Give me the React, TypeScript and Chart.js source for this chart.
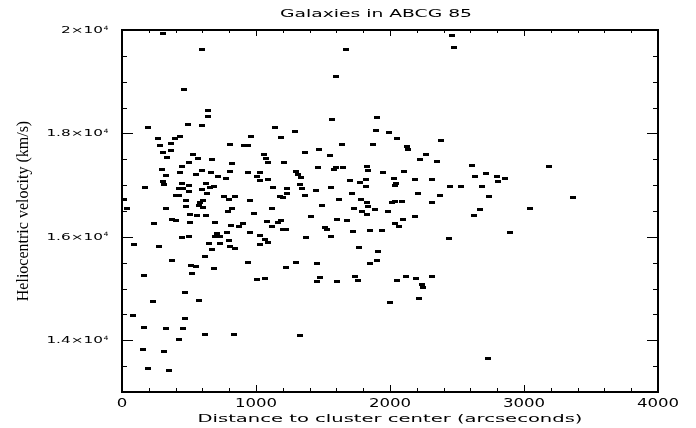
import React, { useEffect, useRef } from "react";
import { Chart, registerables } from "chart.js";

Chart.register(...registerables);

const TITLE = "Galaxies in ABCG 85";
const X_TITLE = "Distance to cluster center (arcseconds)";
const Y_TITLE = "Heliocentric velocity (km/s)";

const X_MIN = 0;
const X_MAX = 4000;
const Y_MIN = 13000;
const Y_MAX = 20000;

const xMajorTicks = [0, 1000, 2000, 3000, 4000];
const xMinorStep = 200;
const yMajorTicks = [14000, 16000, 18000, 20000];
const yMajorMantissa = ["1.4", "1.6", "1.8", "2"];
const yExponent = "4";
const yMinorStep = 500;

// projected distance from cluster centre (arcsec)
const distance = [
  308, 599, 1672, 1597, 465, 644, 644, 1569, 1903, 2465, 2478,
  196, 495, 599, 1144, 1293, 271, 396, 433, 960, 1187, 368, 286, 804, 908, 943,
  308, 368, 532, 338, 569, 674, 1060, 1077, 500, 823, 1087, 1207, 450, 301, 433,
  599, 554, 662, 326, 719, 808, 943, 1032, 1010, 778, 1030, 1092, 1301, 306, 316,
  450, 502, 629, 174, 425, 457, 595, 659, 687, 1129, 1234, 502, 637, 1234, 401,
  423, 763, 846, 1179, 1199, 17, 480, 607, 799, 957, 584, 577, 480, 607, 35, 331,
  823, 1122,
  793, 987, 510, 562, 629, 373, 405, 241, 510, 696, 816, 875, 905, 1084, 1166,
  1189, 1122, 1204, 1226, 786, 957, 711, 1032, 450, 502, 696, 734, 1065, 801,
  1092, 92, 652, 734, 1032, 278, 808, 846, 674, 622, 375, 943, 1301, 517, 554,
  689, 1226, 166, 525, 1010, 1069, 472,
  1898, 1995, 2055, 2383, 1644, 1875, 2129, 2137, 1368, 1472, 1555, 2271, 2226,
  2353, 1465, 1599, 1584, 1652, 1831, 1838, 1316, 1950, 2107, 1338, 1704, 1778,
  1823, 2032, 2189, 2316, 1331, 1346, 1562, 1823, 2047, 2040, 2450, 2532, 1450,
  1368, 1719, 2211, 2375, 1622, 1786, 1831, 2017, 2040, 2092, 2316, 1495, 1838,
  1734, 1890,
  1793, 1831, 1987, 1413, 1607, 1681, 2099, 2184, 2040, 2069, 1517, 1532, 1726,
  1853, 1943, 1375, 1562, 2443, 1771, 1913, 1905, 1853, 1457, 1480, 1457, 1607,
  1741, 1763, 2055, 2122, 2196, 2316, 2241, 2244,
  2614, 3189, 2719, 2637, 2801, 2861, 2806, 2689, 2741, 3368, 2674, 3047, 2629,
  2898,
  2214, 1998, 2734, 234, 572, 84, 166, 331, 457, 472, 622, 838, 1331, 428, 159,
  316, 196, 353,
];

// heliocentric velocity (km/s)
const velocity = [
  19936, 19627, 19627, 19110, 18853, 18447, 18331, 18279, 18312, 19884, 19665,
  18105, 18176, 18157, 18105, 18041, 17906, 17906, 17931, 17931, 17917, 17809,
  17757, 17790, 17757, 17776, 17635, 17674, 17596, 17538, 17519, 17500, 17596,
  17519, 17441, 17422, 17441, 17441, 17364, 17306, 17248, 17279, 17209, 17248,
  17190, 17171, 17260, 17248, 17248, 17163, 17124, 17093, 17113, 17267, 17066,
  17016, 17035, 16997, 17035, 16958, 16938, 16938, 16919, 16958, 16977, 16958,
  16938, 16881, 16842, 16842, 16803, 16803, 16784, 16784, 16784, 16765, 16732,
  16707, 16699, 16726, 16707, 16660, 16616, 16590, 16571, 16544, 16552, 16544,
  16544,
  16500, 16455, 16436, 16416, 16416, 16339, 16320, 16262, 16281, 16281, 16223,
  16204, 16262, 16300, 16281, 16320, 16204, 16146, 16146, 16088, 16088, 16068,
  16030, 15991, 16010, 16010, 16010, 15952, 15933, 15894, 15856, 15875, 15875,
  15856, 15817, 15809, 15778, 15759, 15623, 15546, 15507, 15507, 15449, 15430,
  15391, 15411, 15256, 15295, 15179, 15198, 14927,
  18060, 18022, 17906, 17867, 17790, 17790, 17751, 17693, 17635, 17693, 17577,
  17596, 17500, 17461, 17345, 17345, 17306, 17345, 17364, 17287, 17209, 17248,
  17267, 17152, 17093, 17055, 17113, 17132, 17113, 17113, 17016, 16938, 16958,
  16977, 17035, 16997, 16977, 16977, 16900, 16803, 16842, 16842, 16803, 16718,
  16726, 16668, 16668, 16680, 16687, 16668, 16610, 16590, 16544, 16533,
  16494, 16436, 16494, 16397, 16339, 16320, 16339, 16397, 16262, 16204, 16185,
  16146, 16107, 16126, 16126, 15991, 16010, 15972, 15798, 15720, 15546, 15488,
  15488, 15218, 15140, 15140, 15237, 15160, 15160, 15237, 15198, 15237, 15082,
  15024,
  17383, 17364, 17229, 17171, 17171, 17132, 17074, 16977, 16784, 16765, 16533,
  16558, 16416, 16088,
  14811, 14734, 13651, 14753, 14773, 14483, 14251, 14231, 14231, 14425, 14115,
  14115, 14096, 14019, 13825, 13786, 13458, 13419,
];

function makeMarker(): HTMLCanvasElement {
  const c = document.createElement("canvas");
  c.width = 6;
  c.height = 3;
  const g = c.getContext("2d")!;
  g.fillStyle = "#000";
  g.fillRect(0, 0, 6, 3);
  return c;
}

function drawStretched(
  ctx: CanvasRenderingContext2D,
  text: string,
  x: number,
  y: number,
  align: CanvasTextAlign,
  sx: number
) {
  ctx.save();
  ctx.translate(x, y);
  ctx.scale(sx, 1);
  ctx.textAlign = align;
  ctx.textBaseline = "alphabetic";
  ctx.fillText(text, 0, 0);
  ctx.restore();
}

function drawFitted(
  ctx: CanvasRenderingContext2D,
  text: string,
  cx: number,
  y: number,
  width: number
) {
  const w = ctx.measureText(text).width;
  drawStretched(ctx, text, cx, y, "center", width / w);
}

const framePlugin = {
  id: "pgframe",
  afterDraw(chart: any) {
    const ctx: CanvasRenderingContext2D = chart.ctx;
    const { left, right, top, bottom } = chart.chartArea;
    const xs = chart.scales.x;
    const ys = chart.scales.y;
    ctx.save();
    ctx.strokeStyle = "#000";
    ctx.fillStyle = "#000";

    // frame
    ctx.lineWidth = 2;
    ctx.strokeRect(left, top, right - left, bottom - top);

    // ticks
    ctx.lineWidth = 1;
    ctx.beginPath();
    for (let v = X_MIN; v <= X_MAX; v += xMinorStep) {
      const major = v % 1000 === 0;
      const px = Math.round(xs.getPixelForValue(v)) + 0.5;
      ctx.moveTo(px, bottom);
      ctx.lineTo(px, bottom - (major ? 7 : 4));
      ctx.moveTo(px, top);
      ctx.lineTo(px, top + (major ? 6 : 3));
    }
    for (let v = Y_MIN; v <= Y_MAX; v += yMinorStep) {
      const major = v % 2000 === 0;
      const py = Math.round(ys.getPixelForValue(v)) + 0.5;
      ctx.moveTo(left, py);
      ctx.lineTo(left + (major ? 11 : 5), py);
      ctx.moveTo(right, py);
      ctx.lineTo(right - (major ? 11 : 5), py);
    }
    ctx.stroke();

    // x tick labels
    ctx.font = "12px 'DejaVu Sans'";
    xMajorTicks.forEach((v) => {
      const px = xs.getPixelForValue(v);
      drawStretched(ctx, String(v), px, 407, "center", 1.38);
    });

    // y tick labels
    yMajorTicks.forEach((v, i) => {
      const py = ys.getPixelForValue(v);
      ctx.font = "9px 'DejaVu Sans'";
      drawStretched(ctx, yMajorMantissa[i] + "\u00d710", 103, py + 3, "right", 1.7);
      ctx.font = "6px 'DejaVu Sans'";
      drawStretched(ctx, yExponent, 103.5, py - 0.5, "left", 1.3);
    });

    // title
    ctx.font = "11px 'DejaVu Sans'";
    drawFitted(ctx, TITLE, 376, 17, 192);

    // x axis title
    ctx.font = "11px 'DejaVu Sans'";
    drawFitted(ctx, X_TITLE, (left + right) / 2, 422, 385);

    // y axis title
    ctx.save();
    ctx.translate(28, (top + bottom) / 2);
    ctx.rotate(-Math.PI / 2);
    ctx.font = "16px 'Liberation Serif'";
    ctx.textAlign = "center";
    ctx.textBaseline = "alphabetic";
    ctx.fillText(Y_TITLE, 0, 0);
    ctx.restore();

    ctx.restore();
  },
};

export default function App() {
  const ref = useRef<HTMLCanvasElement | null>(null);

  useEffect(() => {
    document.body.style.margin = "0";
    const canvas = ref.current;
    if (!canvas) return;
    const marker = makeMarker();
    const points = distance.map((d, i) => ({ x: d, y: velocity[i] }));
    const chart = new Chart(canvas, {
      type: "scatter",
      data: {
        datasets: [
          {
            data: points,
            pointStyle: marker as any,
            pointRadius: 3,
            backgroundColor: "#000",
            borderColor: "#000",
            showLine: false,
          },
        ],
      },
      options: {
        animation: false,
        responsive: false,
        devicePixelRatio: 1,
        layout: { padding: { left: 122, right: 38, top: 30, bottom: 36 } },
        plugins: {
          legend: { display: false },
          tooltip: { enabled: false },
          title: { display: false },
        },
        scales: {
          x: { type: "linear", min: X_MIN, max: X_MAX, display: false },
          y: { type: "linear", min: Y_MIN, max: Y_MAX, display: false },
        },
      },
      plugins: [framePlugin],
    });
    return () => chart.destroy();
  }, []);

  return (
    <div style={{ width: 696, height: 428, background: "#fff" }}>
      <canvas ref={ref} width={696} height={428} />
    </div>
  );
}
